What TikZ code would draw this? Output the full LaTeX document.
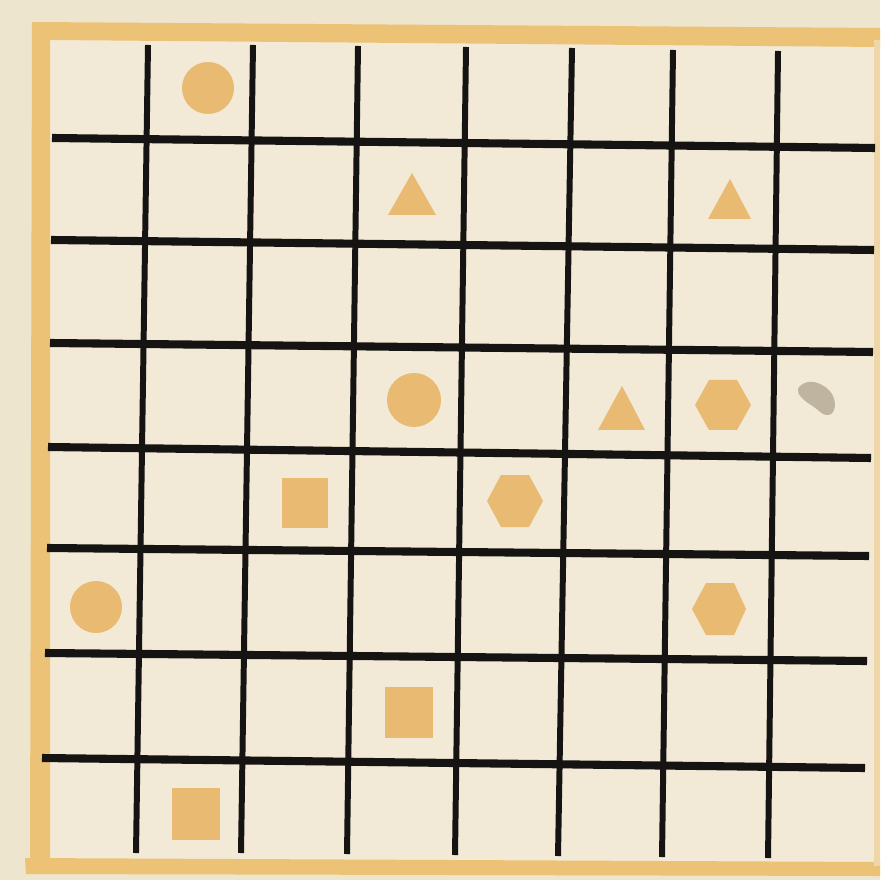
\documentclass[tikz,border=0pt]{standalone}
\usetikzlibrary{shapes.geometric}
\definecolor{paper}{RGB}{242,234,214}
\definecolor{outside}{RGB}{238,229,206}
\definecolor{bordercol}{RGB}{236,194,118}
\definecolor{shapecol}{RGB}{233,186,114}
\definecolor{smudge}{RGB}{190,180,160}
\definecolor{ink}{RGB}{22,20,18}
\tikzset{
  hline/.style={draw=ink, line width=2.3pt},
  vline/.style={draw=ink, line width=1.7pt},
  marker/.style={fill=shapecol},
  frame/.style={fill=bordercol}
}
\begin{document}
\begin{tikzpicture}[x=0.01cm,y=-0.01cm]
% canvas
\fill[outside] (0,0) rectangle (880,880);
\useasboundingbox (0,0) rectangle (880,880);
\fill[paper] (40,32) -- (880,38) -- (880,866) -- (32,866) -- cycle;
% orange frame
\fill[frame] (32,22) -- (880,28) -- (880,47) -- (50,40) -- (50,858) -- (30,860) -- cycle;
\fill[frame] (25,858) -- (880,862) -- (880,876) -- (26,874) -- cycle;
\fill[bordercol!50!paper] (874,40) rectangle (880,866);
% horizontal grid lines
\coordinate (hA1) at (52,138);  \coordinate (hB1) at (875,148);
\coordinate (hA2) at (51,240);  \coordinate (hB2) at (874,250);
\coordinate (hA3) at (50,343);  \coordinate (hB3) at (873,352);
\coordinate (hA4) at (48,447);  \coordinate (hB4) at (871,458);
\coordinate (hA5) at (47,548);  \coordinate (hB5) at (869,556);
\coordinate (hA6) at (45,653);  \coordinate (hB6) at (867,661);
\coordinate (hA7) at (42,758);  \coordinate (hB7) at (865,768);
\foreach \i in {1,...,7} \draw[hline] (hA\i) -- (hB\i);
% vertical grid lines
\coordinate (vA1) at (148,45);  \coordinate (vB1) at (136,853);
\coordinate (vA2) at (253,45);  \coordinate (vB2) at (241,853);
\coordinate (vA3) at (358,46);  \coordinate (vB3) at (347,854);
\coordinate (vA4) at (466,47);  \coordinate (vB4) at (455,855);
\coordinate (vA5) at (572,48);  \coordinate (vB5) at (558,856);
\coordinate (vA6) at (673,50);  \coordinate (vB6) at (662,857);
\coordinate (vA7) at (778,51);  \coordinate (vB7) at (768,858);
\foreach \i in {1,...,7} \draw[vline] (vA\i) -- (vB\i);
% circles
\fill[marker] (208,88) circle (26);
\fill[marker] (414,400) circle (27);
\fill[marker] (96,607) circle (26);
% triangles
\fill[marker] (412,173) -- (436,215) -- (388,215) -- cycle;
\fill[marker] (730,179) -- (751,219) -- (708,219) -- cycle;
\fill[marker] (622,386) -- (645,430) -- (598,430) -- cycle;
% hexagons
\fill[marker, shift={(723,405)}] (28,0) -- (14,25) -- (-14,25) -- (-28,0) -- (-14,-25) -- (14,-25) -- cycle;
\fill[marker, shift={(515,501)}] (28,0) -- (14,26) -- (-14,26) -- (-28,0) -- (-14,-26) -- (14,-26) -- cycle;
\fill[marker, shift={(719,609)}] (27,0) -- (15,26) -- (-13,26) -- (-27,0) -- (-13,-26) -- (15,-26) -- cycle;
% squares
\fill[marker] (282,478) rectangle (328,528);
\fill[marker] (385,687) rectangle (433,738);
\fill[marker] (172,788) rectangle (220,840);
% grey smudge
\fill[smudge] plot[smooth cycle, tension=0.7] coordinates {(798,389) (808,382) (822,385) (833,396) (834,410) (826,415) (814,407) (802,398)};
\end{tikzpicture}
\end{document}
